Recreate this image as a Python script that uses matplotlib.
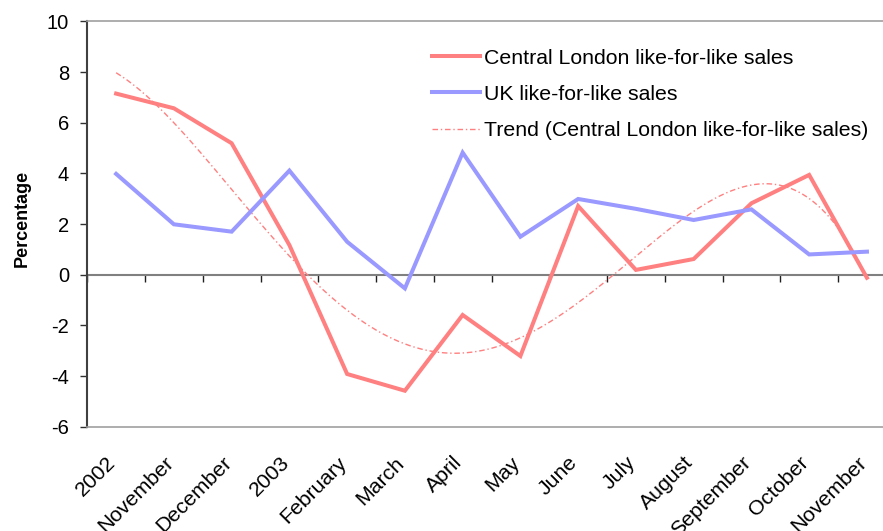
import numpy as np
import matplotlib
matplotlib.use("Agg")
import matplotlib.pyplot as plt
from matplotlib.transforms import ScaledTranslation

months = ["2002", "November", "December", "2003", "February", "March", "April",
          "May", "June", "July", "August", "September", "October", "November"]
central_london = [7.15, 6.57, 5.19, 1.17, -3.92, -4.58, -1.59, -3.21, 2.71, 0.19,
                  0.62, 2.82, 3.94, -0.12]
uk = [3.98, 1.99, 1.70, 4.11, 1.30, -0.54, 4.82, 1.50, 2.99, 2.60, 2.16, 2.58,
      0.80, 0.91]
trend_degree = 4

plt.rcParams["font.family"] = ["Liberation Sans", "DejaVu Sans"]
plt.rcParams["axes.unicode_minus"] = False

fig = plt.figure(figsize=(8.83, 5.31), dpi=100)
ax = fig.add_axes([87.25 / 883, 1 - 426.7 / 531, (895.8 - 87.25) / 883, (426.7 - 21.4) / 531])

x = np.arange(len(months))
ax.plot(x, central_london, color="#FF8080", lw=2.9, solid_joinstyle="miter",
        label="Central London like-for-like sales", zorder=3)
ax.plot(x, uk, color="#9999FF", lw=2.9, solid_joinstyle="miter",
        label="UK like-for-like sales", zorder=3)

# polynomial trend fitted to the Central London series
xs = np.linspace(0, len(months) - 1, 400)
coef = np.polyfit(x, central_london, trend_degree)
ax.plot(xs, np.polyval(coef, xs), color="#FF8080", lw=1.0, ls=(0, (4, 2, 1, 2)),
        label="Trend (Central London like-for-like sales)", zorder=2)

ax.set_xlim(-0.5, len(months) - 0.5)
ax.set_ylim(-6, 10)
ax.set_yticks(np.arange(-6, 11, 2))
ax.tick_params(axis="y", direction="out", length=5, width=1, color="#303030",
               labelsize=14.5, pad=8)

ax.set_xticks(x)
ax.set_xticklabels(months, rotation=45, ha="right", va="top", rotation_mode="anchor",
                   fontsize=15.3)
ax.tick_params(axis="x", length=0, pad=19)
shift = ScaledTranslation(-0.10, 0, fig.dpi_scale_trans)
for lab in ax.get_xticklabels():
    lab.set_transform(lab.get_transform() + shift)

for side in ("top", "bottom"):
    ax.spines[side].set_color("#A0A0A0")
    ax.spines[side].set_linewidth(1.2)
ax.spines["right"].set_visible(False)
ax.spines["left"].set_color("#404040")
ax.spines["left"].set_linewidth(1.5)

# zero line with category boundary ticks
zero = ax.secondary_xaxis(6 / 16)
zero.set_xticks(np.arange(-0.5, len(months), 1))
zero.set_xticklabels([])
zero.tick_params(direction="out", length=5, width=1, color="#202020")
zero.spines["bottom"].set_color("#808080")
zero.spines["bottom"].set_linewidth(1.5)

ax.set_ylabel("Percentage", fontsize=13, fontweight="bold")
ax.yaxis.set_label_coords(-0.0696, 0.515)

leg = ax.legend(loc="upper left", bbox_to_anchor=(423.0 / 883, 1 - 40 / 531),
                bbox_transform=fig.transFigure, frameon=False, fontsize=15.3,
                handlelength=2.3, handletextpad=0.15, labelspacing=0.82,
                borderaxespad=0)

fig.savefig("out.png", dpi=100)
